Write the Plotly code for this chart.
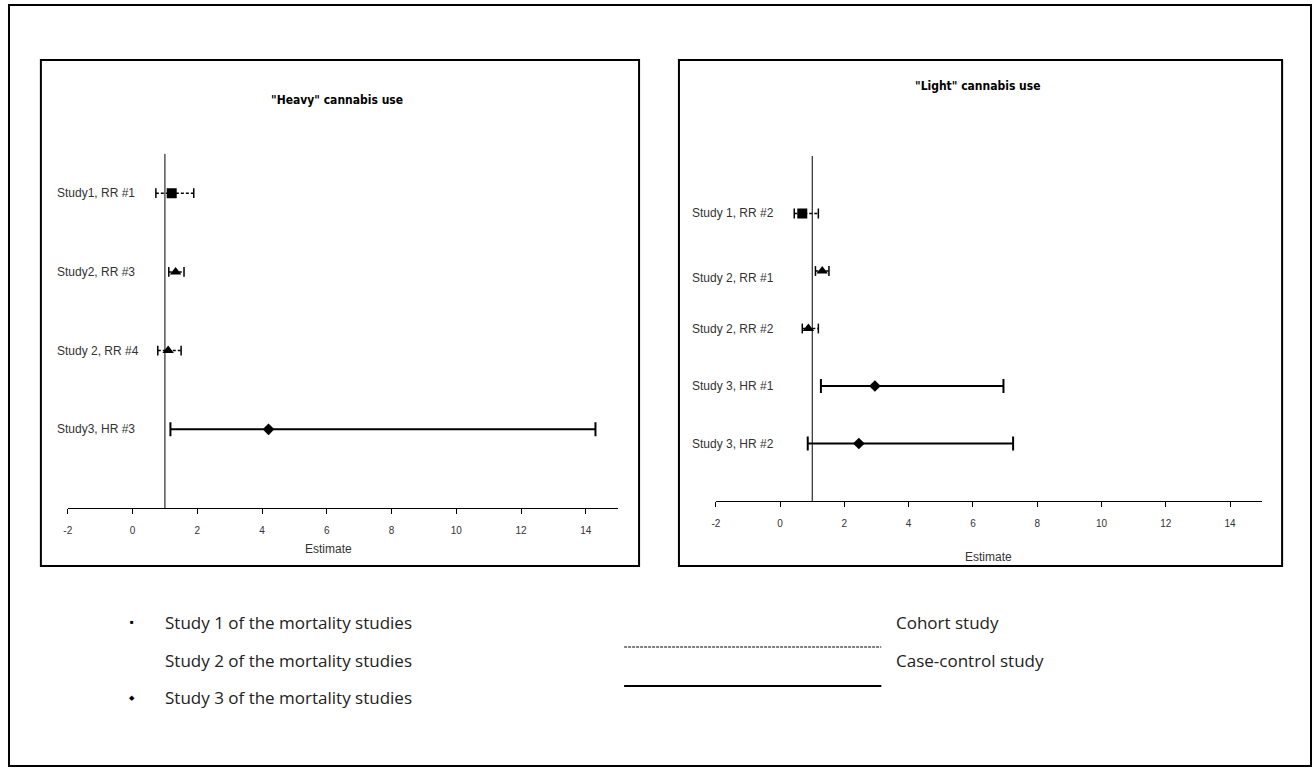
import plotly.graph_objects as go

W, H = 1316, 771

# ---------------- data ----------------
heavy_labels = ["Study1, RR #1", "Study2, RR #3", "Study 2, RR #4", "Study3, HR #3"]
heavy_study = [1, 2, 2, 3]
heavy_est = [1.21, 1.33, 1.10, 4.2]
heavy_lo = [0.72, 1.12, 0.78, 1.17]
heavy_hi = [1.89, 1.59, 1.50, 14.3]
heavy_row = [4, 3, 2, 1]

light_labels = ["Study 1, RR #2", "Study 2, RR #1", "Study 2, RR #2", "Study 3, HR #1", "Study 3, HR #2"]
light_study = [1, 2, 2, 3, 3]
light_est = [0.69, 1.31, 0.88, 2.95, 2.45]
light_lo = [0.44, 1.10, 0.69, 1.27, 0.86]
light_hi = [1.19, 1.52, 1.19, 6.95, 7.25]
light_row = [5, 4, 3, 2, 1]
light_label_row = [5, 3.88, 3, 2, 1]

x_ticks = [-2, 0, 2, 4, 6, 8, 10, 12, 14]
x_tick_text = ["-2", "0", "2", "4", "6", "8", "10", "12", "14"]
ref_value = 1

panel_titles = ['"Heavy" cannabis use', '"Light" cannabis use']
legend_studies = ["Study 1 of the mortality studies", "Study 2 of the mortality studies",
                  "Study 3 of the mortality studies"]
legend_designs = ["Cohort study", "Case-control study"]

# ---------------- helpers ----------------
def px(x):
    return x / W

def py(y):
    return 1 - y / H

symbols = {1: "square", 2: "triangle-up", 3: "diamond"}
msize = {1: 10, 2: 10, 3: 9}

fig = go.Figure()

def add_panel(xa, ya, labels, study, est, lo, hi, row, label_row, label_x):
    for s, e, l, h, r in zip(study, est, lo, hi, row):
        dashed = s in (1, 2)
        fig.add_trace(go.Scatter(
            x=[l, h], y=[r, r], mode="lines",
            line=dict(color="#000", width=1.5 if dashed else 2,
                      dash="3px,2px" if dashed else "solid"),
            xaxis=xa, yaxis=ya, showlegend=False, hoverinfo="skip"))
        fig.add_trace(go.Scatter(
            x=[l, h], y=[r, r], mode="markers",
            marker=dict(symbol="line-ns", size=7 if dashed else 10,
                        line=dict(color="#000", width=1.5 if dashed else 2)),
            xaxis=xa, yaxis=ya, showlegend=False, hoverinfo="skip"))
        fig.add_trace(go.Scatter(
            x=[e], y=[r], mode="markers",
            marker=dict(symbol=symbols[s], size=msize[s], color="#000"),
            xaxis=xa, yaxis=ya, showlegend=False))
    for lab, lr in zip(labels, label_row):
        fig.add_annotation(x=label_x, y=lr, xref="paper", yref=ya, text=lab,
                           showarrow=False, xanchor="left", yanchor="middle",
                           font=dict(family="Liberation Sans, Arial", size=12, color="#333"))

add_panel("x", "y", heavy_labels, heavy_study, heavy_est, heavy_lo, heavy_hi,
          heavy_row, heavy_row, px(51))
add_panel("x2", "y2", light_labels, light_study, light_est, light_lo, light_hi,
          light_row, light_label_row, px(688))

axis_common = dict(range=[-2, 15], tickvals=x_ticks, ticktext=x_tick_text,
                   showgrid=False, zeroline=False,
                   showline=True, linecolor="#000", linewidth=1, ticks="outside",
                   ticklen=5, tickcolor="#000", ticklabelstandoff=8,
                   tickfont=dict(family="Liberation Sans, Arial", size=10, color="#333"))

fig.update_layout(
    width=W, height=H, margin=dict(l=0, r=0, t=0, b=0),
    paper_bgcolor="white", plot_bgcolor="white", showlegend=False,
    xaxis=dict(domain=[px(64), px(616)], anchor="y", **axis_common),
    yaxis=dict(domain=[py(508), py(114.5)], range=[0, 5], visible=False, anchor="x"),
    xaxis2=dict(domain=[px(714), px(1262)], anchor="y2", **axis_common),
    yaxis2=dict(domain=[py(501), py(156)], range=[0, 6], visible=False, anchor="x2"),
)

# reference lines at 1
fig.add_shape(type="line", xref="x", yref="y", x0=ref_value, x1=ref_value, y0=0, y1=4.5,
              line=dict(color="#000", width=1))
fig.add_shape(type="line", xref="x2", yref="y2", x0=ref_value, x1=ref_value, y0=0, y1=6,
              line=dict(color="#000", width=1))

# borders
fig.add_shape(type="rect", xref="paper", yref="paper", x0=px(5), x1=px(1311), y0=py(766), y1=py(5),
              line=dict(color="#000", width=2))
fig.add_shape(type="rect", xref="paper", yref="paper", x0=px(37), x1=px(637), y0=py(566), y1=py(60),
              line=dict(color="#000", width=2))
fig.add_shape(type="rect", xref="paper", yref="paper", x0=px(677), x1=px(1282), y0=py(566), y1=py(60),
              line=dict(color="#000", width=2))

def note(x, y, text, font, xanchor="center"):
    fig.add_annotation(x=px(x), y=py(y), xref="paper", yref="paper", text=text,
                       showarrow=False, xanchor=xanchor, yanchor="middle", font=font)

# titles
title_font = dict(family="DejaVu Sans Condensed, Liberation Sans, Arial", size=12, color="#000")
note(334, 100, "<b>%s</b>" % panel_titles[0], title_font)
note(977, 86, "<b>%s</b>" % panel_titles[1], title_font)

# axis titles
axt_font = dict(family="Liberation Sans, Arial", size=12, color="#333")
note(325, 549, "Estimate", axt_font)
note(987, 557, "Estimate", axt_font)

# bottom legend
leg_font = dict(family="Open Sans, Lato", size=17, color="#222")
for txt, yy in zip(legend_studies, [622, 660, 697]):
    note(159, yy, txt, leg_font, xanchor="left")
note(128, 622, "■", dict(size=6, color="#000"))
note(128, 697, "◆", dict(size=7, color="#000"))
for txt, yy in zip(legend_designs, [622, 660]):
    note(893, yy, txt, leg_font, xanchor="left")
fig.add_shape(type="line", xref="paper", yref="paper", x0=px(622), x1=px(880), y0=py(647), y1=py(647),
              line=dict(color="#000", width=1, dash="3px,1px"))
fig.add_shape(type="line", xref="paper", yref="paper", x0=px(622), x1=px(880), y0=py(686), y1=py(686),
              line=dict(color="#000", width=2))

fig.write_html("out.html", config={"displayModeBar": False},
               post_script="document.body.style.margin='0';document.body.style.padding='0';")
